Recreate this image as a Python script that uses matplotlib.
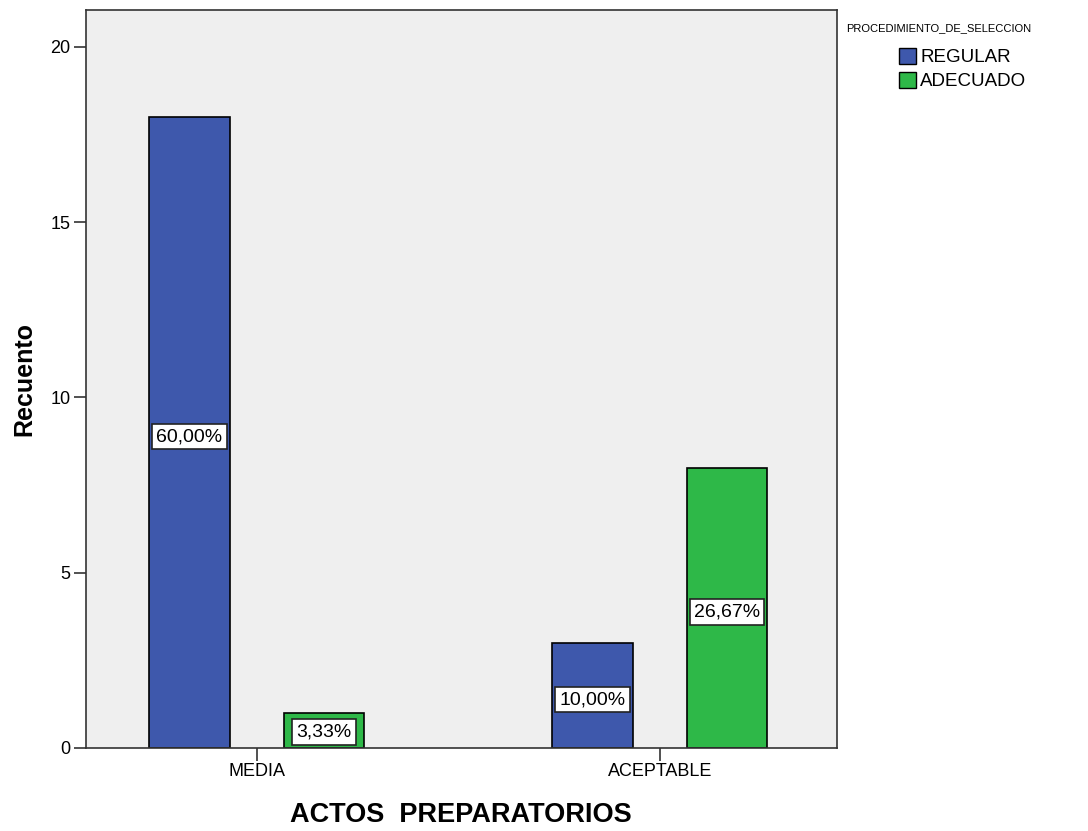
import matplotlib
matplotlib.use("Agg")
import matplotlib.pyplot as plt
from matplotlib.patches import Patch
import numpy as np

plt.rcParams['font.family'] = ['Liberation Sans', 'DejaVu Sans']

categories = ['MEDIA', 'ACEPTABLE']
series = ['REGULAR', 'ADECUADO']
counts = {'REGULAR': [18, 3], 'ADECUADO': [1, 8]}
percents = {'REGULAR': ['60,00%', '10,00%'], 'ADECUADO': ['3,33%', '26,67%']}
colors = {'REGULAR': '#3E58AC', 'ADECUADO': '#2EB848'}

fig = plt.figure(figsize=(10.88, 8.31), dpi=100)
ax = fig.add_axes([0.079, 0.0999, 0.690, 0.888])
ax.set_facecolor('#EFEFEF')

x = np.arange(len(categories))
width = 0.2
offsets = {'REGULAR': -0.167, 'ADECUADO': 0.167}

for s in series:
    xs = x + offsets[s]
    ax.bar(xs, counts[s], width=width, color=colors[s], edgecolor='black', linewidth=1.2, zorder=2)
    for xi, v, lab in zip(xs, counts[s], percents[s]):
        y = v / 2 - 0.12 if v >= 2 else 0.45
        ax.text(xi, y, lab, ha='center', va='center', fontsize=14, zorder=3,
                bbox=dict(boxstyle='square,pad=0.22', fc='white', ec='#222222', lw=1.2))

ax.set_xlim(-0.424, 1.439)
ax.set_ylim(0, 21.05)
ax.set_yticks([0, 5, 10, 15, 20])
ax.set_xticks(x)
ax.set_xticklabels(categories)
ax.tick_params(axis='both', labelsize=13, length=9, width=1.2, color='#333333', pad=2)
for sp in ax.spines.values():
    sp.set_linewidth(1.2)
    sp.set_color('#333333')

ax.set_ylabel('Recuento', fontsize=18, fontweight='bold', labelpad=10)
ax.set_xlabel('ACTOS  PREPARATORIOS', fontsize=19.5, fontweight='bold', labelpad=16)

handles = [Patch(facecolor=colors[s], edgecolor='black', label=s) for s in series]
fig.text(0.778, 0.966, 'PROCEDIMIENTO_DE_SELECCION', fontsize=8, ha='left', va='center')
fig.legend(handles=handles, loc='upper left', bbox_to_anchor=(0.826, 0.942), frameon=False,
           fontsize=13.5, handlelength=0.9, handleheight=0.9, handletextpad=0.25,
           labelspacing=0.3, borderaxespad=0, borderpad=0)

fig.savefig('out.png', dpi=100)
